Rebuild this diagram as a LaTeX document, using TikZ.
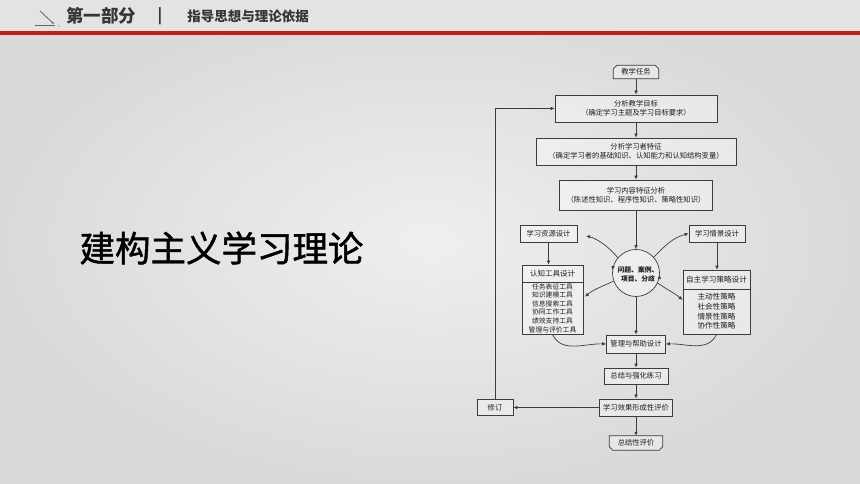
\documentclass[tikz,border=0pt]{standalone}
\usepackage{fontspec}
\setmainfont{Noto Sans CJK SC}
\newfontfamily\cjk{Noto Sans CJK SC}
\newfontfamily\titlefont[FakeBold=1.2]{Noto Sans CJK SC}
\usetikzlibrary{arrows.meta}
\definecolor{bgin}{HTML}{EFEFEF}
\definecolor{bgout}{HTML}{DADADA}
\definecolor{linec}{HTML}{3C3C3C}
\definecolor{txtc}{HTML}{1E1E1E}
\definecolor{redline}{HTML}{CC1A1A}
\definecolor{headc}{HTML}{363636}
\begin{document}
\begin{tikzpicture}[x=1pt,y=1pt,
  fbox/.style={draw=linec, fill=white, fill opacity=0.35, text opacity=1, line width=0.7pt,
    inner sep=0pt, text=txtc, align=center, font=\fontsize{7.3}{9}\selectfont},
  termbox/.style={inner sep=0pt, text=txtc, font=\fontsize{7.3}{9}\selectfont},
  termline/.style={draw=linec, fill=white, fill opacity=0.35, line width=0.7pt},
  arr/.style={draw=linec, line width=0.7pt, -{Latex[length=4pt,width=3.6pt]}},
  plain/.style={draw=linec, line width=0.7pt}]
\useasboundingbox (0,0) rectangle (860,484);
% background
\shade[inner color=bgin, outer color=bgout] (0,0) rectangle (860,484);
\fill[white, opacity=0.25] (0,453) rectangle (860,484);
\fill[redline] (0,448.5) rectangle (860,453);
% header
\draw[draw=gray!80!black, line width=0.8pt] (35,459) -- (55,459);
\draw[draw=gray!80!black, line width=0.8pt, -{Latex[length=2.5pt,width=2.5pt]}] (40,473) -- (54,460);
\fill[gray!70!black] (59,458) circle (0.6);
\node[text=headc, font=\fontsize{17.5}{20}\selectfont\bfseries] (h1) at (101,468) {第一部分};
\node[text=headc, font=\fontsize{15}{18}\selectfont\bfseries] (hbar) at (160,468) {|};
\node[text=headc, font=\fontsize{13.5}{16}\selectfont\bfseries] (h2) at (248,468) {指导思想与理论依据};
% title
\node[text=black, font=\titlefont\fontsize{35.5}{40}\selectfont] (title) at (221.5,236) {建构主义学习理论};
% flowchart nodes
\node[termbox, minimum width=45pt, minimum height=13pt] (task) at (636,412) {};
\draw[termline] ([yshift=-3.5pt]task.north west) -- ([xshift=3.5pt]task.north west) -- ([xshift=-3.5pt]task.north east) -- ([yshift=-3.5pt]task.north east) -- (task.south east) -- (task.south west) -- cycle;
\node[termbox] (tasktext) at (task.center) {教学任务};
\node[fbox, minimum width=162pt, minimum height=27pt] (goal) at (636,375.5) {分析教学目标\\（确定学习主题及学习目标要求）};
\node[fbox, minimum width=200pt, minimum height=27pt] (learner) at (636,332.5) {分析学习者特征\\（确定学习者的基础知识、认知能力和认知结构变量）};
\node[fbox, minimum width=153pt, minimum height=30pt] (content) at (636,289) {学习内容特征分析\\（陈述性知识、程序性知识、策略性知识）};
\node[fbox, minimum width=57pt, minimum height=17pt] (res) at (548.5,250.5) {学习资源设计};
\node[fbox, minimum width=56pt, minimum height=17pt] (sit) at (717,250.5) {学习情景设计};
\node[draw=linec, line width=0.7pt, fill=white, fill opacity=0.35, text opacity=1, circle, minimum size=47pt, inner sep=0pt] (circ) at (636,211) {};
\node[text=txtc, font=\fontsize{6.8}{9}\selectfont\bfseries, align=center] (ctext) at (638,209.5) {问题、案例、\\项目、分歧};
\node[fbox, minimum width=61pt, minimum height=17pt, font=\fontsize{7.5}{9}\selectfont] (cog) at (552.5,210.5) {认知工具设计};
\node[fbox, minimum width=61pt, minimum height=52pt, font=\fontsize{6.8}{8.6}\selectfont] (cogl) at (552.5,176) {任务表征工具\\知识建模工具\\信息搜索工具\\协同工作工具\\绩效支持工具\\管理与评价工具};
\node[fbox, minimum width=67pt, minimum height=19pt, font=\fontsize{7.6}{9}\selectfont] (auto) at (716.5,204.5) {自主学习策略设计};
\node[fbox, minimum width=67pt, minimum height=45pt, font=\fontsize{7.6}{9.7}\selectfont] (autol) at (716.5,172.5) {主动性策略\\社会性策略\\情景性策略\\协作性策略};
\node[fbox, minimum width=59pt, minimum height=18pt] (mgmt) at (636,140) {管理与帮助设计};
\node[fbox, minimum width=64pt, minimum height=16pt] (summ) at (636,108) {总结与强化练习};
\node[fbox, minimum width=73pt, minimum height=17pt] (form) at (636,76.5) {学习效果形成性评价};
\node[fbox, minimum width=36pt, minimum height=16pt] (rev) at (495,76.5) {修订};
\node[termbox, minimum width=53pt, minimum height=14pt] (final) at (636,41) {};
\draw[termline] (final.north west) -- (final.north east) -- ([yshift=3.5pt]final.south east) -- ([xshift=-3.5pt]final.south east) -- ([xshift=3.5pt]final.south west) -- ([yshift=3.5pt]final.south west) -- cycle;
\node[termbox] (finaltext) at (final.center) {总结性评价};
% connectors
\draw[arr] (task.south) -- (goal.north);
\draw[arr] (goal.south) -- (learner.north);
\draw[arr] (learner.south) -- (content.north);
\draw[arr] (content.south) -- (circ.north);
\draw[arr, shorten >=9pt] (circ.140) to[out=130, in=-15] (res.east);
\draw[arr] (circ.42) to[out=45, in=195] (sit.west);
\draw[arr, shorten >=2pt] (circ.200) to[out=205, in=40] (cogl.north east |- 0,186);
\draw[arr] (circ.-25) to[out=-35, in=140] (autol.west |- 0,184);
\draw[arr] (res.south) -- (res.south |- cog.north);
\draw[arr] (sit.south) -- (sit.south |- auto.north);
\draw[arr] (circ.south) -- (mgmt.north);
\draw[arr] (cogl.south) to[out=-65, in=178] (mgmt.west);
\draw[arr] (autol.south) to[out=-115, in=2] (mgmt.east);
\draw[arr] (mgmt.south) -- (summ.north);
\draw[arr] (summ.south) -- (form.north);
\draw[arr] (form.south) -- (final.north);
\draw[arr] (form.west) -- (rev.east);
\draw[arr] (rev.north) |- (goal.west);
% rotation marks on the circle
\draw[arr] (circ.165) -- (circ.173);
\draw[arr] (circ.-12) -- (circ.-4);
\end{tikzpicture}
\end{document}
